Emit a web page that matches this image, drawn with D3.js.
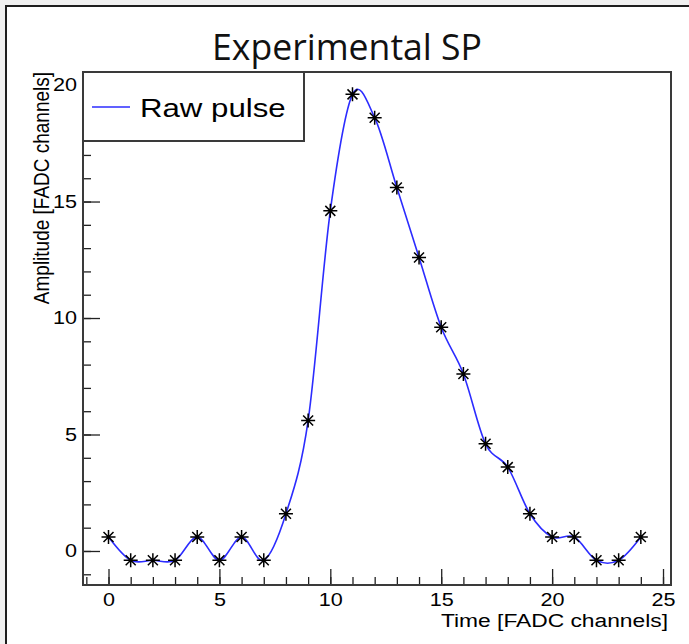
<!DOCTYPE html>
<html>
<head>
<meta charset="utf-8">
<script src="https://cdn.jsdelivr.net/npm/d3@7"></script>
<style>
    body { margin: 0; background: #f0f0f0; overflow: hidden; }
    svg { display: block; }
</style>
</head>
<body>
<div id="chart"></div>
<script>
//Datos
const timeChannels = [0, 1, 2, 3, 4, 5, 6, 7, 8, 9, 10, 11, 12, 13, 14, 15, 16, 17, 18, 19, 20, 21, 22, 23, 24];
const amplitude = [0.6, -0.4, -0.4, -0.4, 0.6, -0.4, 0.6, -0.4, 1.6, 5.6, 14.6, 19.6, 18.6, 15.6, 12.6, 9.6, 7.6, 4.6, 3.6, 1.6, 0.6, 0.6, -0.4, -0.4, 0.6];
const xMajorTicks = [0, 5, 10, 15, 20, 25];
const xMinorTicks = [-1, 0, 1, 2, 3, 4, 5, 6, 7, 8, 9, 10, 11, 12, 13, 14, 15, 16, 17, 18, 19, 20, 21, 22, 23, 24, 25];
const yMajorTicks = [0, 5, 10, 15, 20];
const yMinorTicks = [-1, 0, 1, 2, 3, 4, 5, 6, 7, 8, 9, 10, 11, 12, 13, 14, 15, 16, 17, 18, 19, 20];
const legendLabel = 'Raw pulse';

//Colores fijos
const COLOR_LINE = '#2c2cff',
COLOR_FRAME = '#3a3a3a';

//La imagen original está algo estirada en horizontal
const STRETCH = 1.2;

const data = timeChannels.map(function(t, i) { return { t: t, v: amplitude[i] }; });

let W = 689, H = 644;
let plot = { left: 83, right: 671, top: 72, bottom: 585 };

let svg = d3.select('#chart')
    .append('svg')
        .attr('width', W)
        .attr('height', H);

//Marco exterior
svg.append('rect')
    .attr('x', 6).attr('y', 6)
    .attr('width', 720).attr('height', 720)
    .attr('fill', '#fff')
    .attr('stroke', '#1e1e1e')
    .attr('stroke-width', 2);

//Título
svg.append('text')
    .attr('x', 347).attr('y', 60)
    .attr('text-anchor', 'middle')
    .attr('font-family', 'Open Sans, sans-serif')
    .attr('font-size', 36)
    .attr('textLength', 270)
    .attr('lengthAdjust', 'spacingAndGlyphs')
    .attr('fill', '#111')
    .text('Experimental SP');

let x = d3.scaleLinear()
    .domain([-1.15, 25.36])
    .range([plot.left, plot.right]);

let y = d3.scaleLinear()
    .domain([-1.46, 20.56])
    .range([plot.bottom, plot.top]);

//Ejes
let fontAxis = 'Liberation Sans, Arial, sans-serif';

svg.append('g')
    .attr('transform', 'translate(0,' + plot.bottom + ')')
    .call(d3.axisBottom(x).tickValues(xMinorTicks).tickSizeInner(-8).tickSizeOuter(0).tickFormat(''))
    .call(function(g) { g.select('.domain').remove(); });

svg.append('g')
    .attr('class', 'xaxis')
    .attr('transform', 'translate(0,' + plot.bottom + ')')
    .call(d3.axisBottom(x).tickValues(xMajorTicks).tickSizeInner(-16).tickSizeOuter(0).tickPadding(8).tickFormat(d3.format('d')))
    .call(function(g) { g.select('.domain').remove(); })
    .call(function(g) {
        g.selectAll('text')
            .attr('font-family', fontAxis)
            .attr('font-size', 18)
            .attr('transform', 'scale(' + STRETCH + ',1)')
            .attr('fill', '#000');
    });

svg.append('g')
    .attr('transform', 'translate(' + plot.left + ',0)')
    .call(d3.axisLeft(y).tickValues(yMinorTicks).tickSizeInner(-8).tickSizeOuter(0).tickFormat(''))
    .call(function(g) { g.select('.domain').remove(); });

svg.append('g')
    .attr('class', 'yaxis')
    .attr('transform', 'translate(' + plot.left + ',0)')
    .call(d3.axisLeft(y).tickValues(yMajorTicks).tickSizeInner(-17).tickSizeOuter(0).tickFormat(d3.format('d')))
    .call(function(g) { g.select('.domain').remove(); })
    .call(function(g) {
        g.selectAll('text')
            .attr('x', -6 / STRETCH)
            .attr('font-family', fontAxis)
            .attr('font-size', 18)
            .attr('transform', 'scale(' + STRETCH + ',1)')
            .attr('fill', '#000');
    });

svg.selectAll('.tick line')
    .attr('stroke', '#222')
    .attr('stroke-width', 1.3);

//Recuadro del gráfico
svg.append('rect')
    .attr('x', plot.left).attr('y', plot.top)
    .attr('width', plot.right - plot.left)
    .attr('height', plot.bottom - plot.top)
    .attr('fill', 'none')
    .attr('stroke', COLOR_FRAME)
    .attr('stroke-width', 2);

//Títulos de ejes
svg.append('text')
    .attr('transform', 'translate(668,627) scale(' + STRETCH + ',1)')
    .attr('text-anchor', 'end')
    .attr('font-family', fontAxis)
    .attr('font-size', 19)
    .attr('fill', '#000')
    .text('Time [FADC channels]');

svg.append('text')
    .attr('transform', 'translate(49,72) scale(' + STRETCH + ',1) rotate(-90)')
    .attr('text-anchor', 'end')
    .attr('font-family', fontAxis)
    .attr('font-size', 19)
    .attr('fill', '#000')
    .text('Amplitude [FADC channels]');

//Curva
let line = d3.line()
    .x(function(d) { return x(d.t); })
    .y(function(d) { return y(d.v); })
    .curve(d3.curveCardinal.tension(0));

svg.append('path')
    .datum(data)
    .attr('d', line)
    .attr('fill', 'none')
    .attr('stroke', COLOR_LINE)
    .attr('stroke-width', 1.6);

//Marcadores (asterisco)
svg.append('g')
    .selectAll('path')
    .data(data)
    .enter()
    .append('path')
    .attr('d', function(d) {
        let cx = x(d.t), cy = y(d.v), a = 7, b = 5;
        return 'M' + (cx - a) + ',' + cy + 'H' + (cx + a) +
            'M' + cx + ',' + (cy - a) + 'V' + (cy + a) +
            'M' + (cx - b) + ',' + (cy - b) + 'L' + (cx + b) + ',' + (cy + b) +
            'M' + (cx - b) + ',' + (cy + b) + 'L' + (cx + b) + ',' + (cy - b);
    })
    .attr('stroke', '#000')
    .attr('stroke-width', 1.5)
    .attr('fill', 'none');

//Leyenda
let legend = svg.append('g');

legend.append('rect')
    .attr('x', plot.left).attr('y', plot.top)
    .attr('width', 221).attr('height', 69)
    .attr('fill', '#fff')
    .attr('stroke', COLOR_FRAME)
    .attr('stroke-width', 2);

legend.append('line')
    .attr('x1', 92).attr('x2', 130)
    .attr('y1', 107).attr('y2', 107)
    .attr('stroke', COLOR_LINE)
    .attr('stroke-width', 1.6);

legend.append('text')
    .attr('transform', 'translate(140,117) scale(' + STRETCH + ',1)')
    .attr('font-family', fontAxis)
    .attr('font-size', 26)
    .attr('fill', '#000')
    .text(legendLabel);
</script>
</body>
</html>
